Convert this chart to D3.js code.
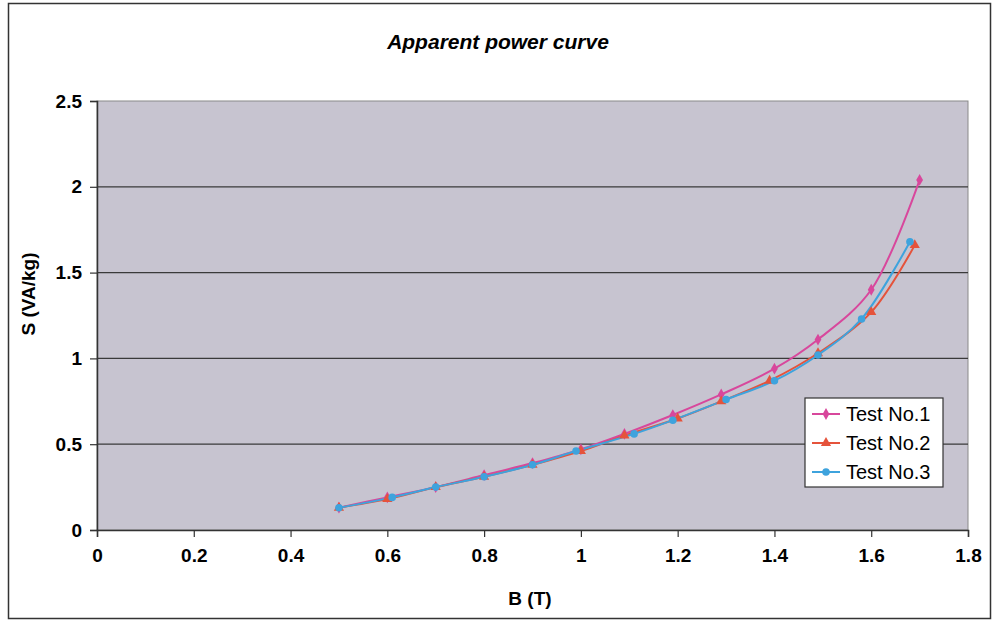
<!DOCTYPE html>
<html>
<head>
<meta charset="utf-8">
<script src="https://cdn.jsdelivr.net/npm/d3@7"></script>
<style>
  body { margin: 0; background: #fff; }
  text { font-family: "Liberation Sans", Arial, sans-serif; }
</style>
</head>
<body>
<script>
// chart data
var seriesNames = ["Test No.1", "Test No.2", "Test No.3"];
var bTest1 = [0.5, 0.6, 0.7, 0.8, 0.9, 1.0, 1.09, 1.19, 1.29, 1.4, 1.49, 1.6, 1.7];
var sTest1 = [0.13, 0.19, 0.25, 0.32, 0.39, 0.47, 0.56, 0.67, 0.79, 0.94, 1.11, 1.40, 2.04];
var bTest2 = [0.5, 0.6, 0.7, 0.8, 0.9, 1.0, 1.09, 1.2, 1.29, 1.39, 1.49, 1.6, 1.69];
var sTest2 = [0.13, 0.18, 0.25, 0.31, 0.38, 0.46, 0.55, 0.65, 0.75, 0.87, 1.03, 1.27, 1.66];
var bTest3 = [0.5, 0.61, 0.7, 0.8, 0.9, 0.99, 1.11, 1.19, 1.3, 1.4, 1.49, 1.58, 1.68];
var sTest3 = [0.13, 0.19, 0.25, 0.31, 0.38, 0.46, 0.56, 0.64, 0.76, 0.87, 1.02, 1.23, 1.68];
var xTicks = [0, 0.2, 0.4, 0.6, 0.8, 1, 1.2, 1.4, 1.6, 1.8];
var yTicks = [0, 0.5, 1, 1.5, 2, 2.5];

// svg variables
var width = 995;
var height = 622;
var plotLeft = 97;
var plotRight = 968;
var plotTop = 101;
var plotBottom = 530;
var colors = ["#d8479c", "#e5533b", "#3ea3dd"];
var symbols = [d3.symbolDiamond, d3.symbolTriangle, d3.symbolCircle];
var symbolSizes = [40, 45, 45];

var svg = d3.select("body")
  .append("svg")
  .attr("width", width)
  .attr("height", height);

// outer frame of the chart
svg.append("rect")
   .attr("x", 8.5)
   .attr("y", 3.5)
   .attr("width", 982)
   .attr("height", 615)
   .attr("fill", "#fff")
   .attr("stroke", "#333")
   .attr("stroke-width", 1.5);

// scales
var xScale = d3.scaleLinear().domain([0, 1.8]).range([plotLeft, plotRight]);
var yScale = d3.scaleLinear().domain([0, 2.5]).range([plotBottom, plotTop]);

// plot area
svg.append("rect")
   .attr("x", plotLeft)
   .attr("y", plotTop)
   .attr("width", plotRight - plotLeft)
   .attr("height", plotBottom - plotTop)
   .attr("fill", "#c7c4d0")
   .attr("stroke", "#8a8a8a")
   .attr("stroke-width", 1);

// gridlines
svg.append("g")
   .selectAll("line")
   .data(yTicks.slice(1, -1))
   .enter()
   .append("line")
   .attr("x1", plotLeft)
   .attr("x2", plotRight)
   .attr("y1", function(d) { return yScale(d); })
   .attr("y2", function(d) { return yScale(d); })
   .attr("stroke", "#3a3a3a")
   .attr("stroke-width", 1.2);

// axes
var xAxis = d3.axisBottom(xScale)
  .tickValues(xTicks)
  .tickSize(7)
  .tickPadding(12)
  .tickFormat(function(d) { return String(+d.toFixed(1)); });
var yAxis = d3.axisLeft(yScale)
  .tickValues(yTicks)
  .tickSize(7)
  .tickPadding(8)
  .tickFormat(function(d) { return String(d); });

var gx = svg.append("g")
   .attr("transform", "translate(" + [0, plotBottom] + ")")
   .call(xAxis);
var gy = svg.append("g")
   .attr("transform", "translate(" + [plotLeft, 0] + ")")
   .call(yAxis);

[gx, gy].forEach(function(g) {
  g.select(".domain").attr("stroke", "#333").attr("stroke-width", 1.5);
  g.selectAll(".tick line").attr("stroke", "#333").attr("stroke-width", 1.2);
  g.selectAll(".tick text")
   .attr("fill", "#000")
   .style("font-family", "'Liberation Sans', Arial, sans-serif")
   .style("font-size", "19px")
   .style("font-weight", "bold");
});

// lines and markers
var xs = [bTest1, bTest2, bTest3];
var ys = [sTest1, sTest2, sTest3];
var line = d3.line()
  .x(function(d) { return xScale(d[0]); })
  .y(function(d) { return yScale(d[1]); })
  .curve(d3.curveCatmullRom.alpha(0.5));

for (var i = 0; i < 3; i++) {
  var pts = xs[i].map(function(x, j) { return [x, ys[i][j]]; });
  svg.append("path")
     .datum(pts)
     .attr("fill", "none")
     .attr("stroke", colors[i])
     .attr("stroke-width", 2)
     .attr("d", line);
}
for (var i = 0; i < 3; i++) {
  var pts = xs[i].map(function(x, j) { return [x, ys[i][j]]; });
  svg.append("g")
     .selectAll("path")
     .data(pts)
     .enter()
     .append("path")
     .attr("transform", function(d) {
       return "translate(" + [xScale(d[0]), yScale(d[1])] + ")";
     })
     .attr("d", d3.symbol().type(symbols[i]).size(symbolSizes[i]))
     .attr("fill", colors[i]);
}

// legend
var legend = svg.append("g").attr("transform", "translate(805,398)");
legend.append("rect")
      .attr("width", 138)
      .attr("height", 89)
      .attr("fill", "#fff")
      .attr("stroke", "#333")
      .attr("stroke-width", 1.2);
seriesNames.forEach(function(name, i) {
  var y = 16 + i * 29;
  legend.append("line")
        .attr("x1", 7).attr("x2", 35)
        .attr("y1", y).attr("y2", y)
        .attr("stroke", colors[i])
        .attr("stroke-width", 2);
  legend.append("path")
        .attr("transform", "translate(" + [21, y] + ")")
        .attr("d", d3.symbol().type(symbols[i]).size(symbolSizes[i]))
        .attr("fill", colors[i]);
  legend.append("text")
        .attr("x", 41)
        .attr("y", y)
        .attr("dy", "0.36em")
        .style("font-size", "20px")
        .attr("fill", "#000")
        .text(name);
});

// title
svg.append("text")
   .attr("x", 498)
   .attr("y", 49)
   .attr("text-anchor", "middle")
   .style("font-size", "21px")
   .style("font-weight", "bold")
   .style("font-style", "italic")
   .attr("fill", "#000")
   .text("Apparent power curve");

// x label
svg.append("text")
   .attr("x", 530)
   .attr("y", 605)
   .attr("text-anchor", "middle")
   .style("font-size", "19px")
   .style("font-weight", "bold")
   .attr("fill", "#000")
   .text("B (T)");

// y label
svg.append("text")
   .attr("transform", "translate(35,294) rotate(-90)")
   .attr("text-anchor", "middle")
   .style("font-size", "19px")
   .style("font-weight", "bold")
   .attr("fill", "#000")
   .text("S (VA/kg)");
</script>
</body>
</html>
